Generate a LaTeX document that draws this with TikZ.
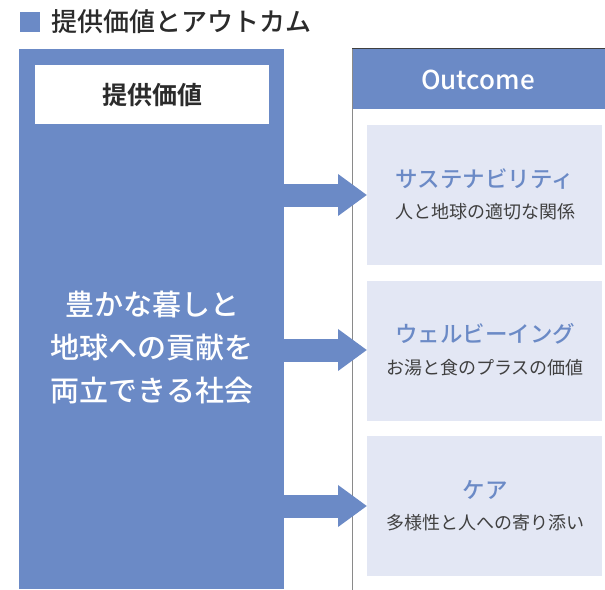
\documentclass[tikz,border=0pt]{standalone}
\usepackage{fontspec}
\newfontfamily\jp{Noto Sans CJK JP}
\newfontfamily\jpm{Noto Sans CJK JP Medium}
\newfontfamily\jpb{Noto Sans CJK JP Bold}
\usetikzlibrary{arrows.meta}
\definecolor{mainblue}{HTML}{6B8AC6}
\definecolor{lightblue}{HTML}{E3E7F4}
\definecolor{titlegray}{HTML}{2B2B2B}
\definecolor{bodygray}{HTML}{404040}
\definecolor{framegray}{HTML}{8A8A8A}
\tikzset{
  fs/.style={font=\jp\fontsize{#1}{#1}\selectfont},
  fm/.style={font=\jpm\fontsize{#1}{#1}\selectfont},
  outbox/.style={fill=lightblue, draw=none, minimum width=235pt, minimum height=140pt, anchor=north west, inner sep=0pt},
  bigarrow/.style={draw=mainblue, line width=23pt, line cap=butt, -{Triangle[length=29pt,width=40pt]}},
  head/.style={fm=22.5, text=mainblue},
  sub/.style={fs=18, text=bodygray},
}
\begin{document}
\begin{tikzpicture}[x=1pt,y=-1pt]
\useasboundingbox (0,0) rectangle (605,589);
% title
\fill[mainblue] (20,12) rectangle (40,32);
\node[fm=26, text=titlegray, anchor=west, inner sep=0pt] (title) at (51,22) {提供価値とアウトカム};
% left panel
\node[fill=mainblue, minimum width=265pt, minimum height=540pt, inner sep=0pt, anchor=north west] (left) at (19,49) {};
\node[fill=white, minimum width=234pt, minimum height=59pt, inner sep=0pt, anchor=north west] (valbox) at (35,65) {};
\node[font=\jpb\fontsize{25}{25}\selectfont, text=titlegray] (valtext) at (valbox.center) {提供価値};
\node[fm=29, text=white, align=center, inner sep=0pt] (bigtext) at (152,347) {豊かな暮しと\\[14pt]地球への貢献を\\[14pt]両立できる社会};
% right panel
\fill[mainblue] (352,48) rectangle (606,109);
\draw[framegray, line width=1pt] (352.5,590) -- (352.5,48.5) -- (606,48.5);
\draw[bodygray, line width=1pt] (352,48.5) -- (606,48.5);
\node[fm=26, text=white] (outcome) at (478,80) {Outcome};
\node[outbox] (b1) at (367,125) {};
\node[outbox] (b2) at (367,281) {};
\node[outbox] (b3) at (367,436) {};
\node[head] (h1) at (485,179) {サステナビリティ};
\node[sub] (s1) at (485,212) {人と地球の適切な関係};
\node[head] (h2) at (485,334) {ウェルビーイング};
\node[sub] (s2) at (485,368) {お湯と食のプラスの価値};
\node[head] (h3) at (485,490) {ケア};
\node[sub] (s3) at (485,523) {多様性と人への寄り添い};
% arrows
\coordinate (a1) at (b1.west |- 0,195);
\coordinate (a2) at (b2.west |- 0,350);
\coordinate (a3) at (b3.west |- 0,506);
\draw[bigarrow] (left.east |- a1) -- (a1);
\draw[bigarrow] (left.east |- a2) -- (a2);
\draw[bigarrow] (left.east |- a3) -- (a3);
\end{tikzpicture}
\end{document}
